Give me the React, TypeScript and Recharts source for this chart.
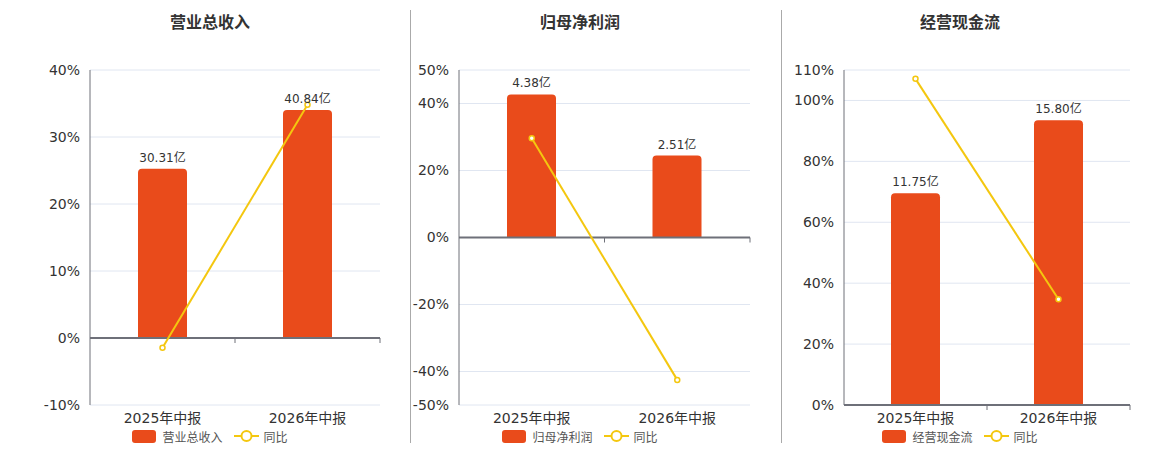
import * as Recharts from "recharts";
import {
  ComposedChart,
  Bar,
  Line,
  XAxis,
  YAxis,
  CartesianGrid,
  ReferenceLine,
  LabelList,
} from "recharts";

const categories = ["2025年中报", "2026年中报"];

const revenueValues = [30.31, 40.84];
const revenueYoY = [-1.45, 34.8];
const revenueTicks = [-10, 0, 10, 20, 30, 40];

const profitValues = [4.38, 2.51];
const profitYoY = [29.6, -42.5];
const profitTicks = [-50, -40, -20, 0, 20, 40, 50];

const cashValues = [11.75, 15.8];
const cashYoY = [107.1, 34.7];
const cashTicks = [0, 20, 40, 60, 80, 100, 110];

const BAR_COLOR = "#e94b1b";
const LINE_COLOR = "#f4c70f";
const AXIS_COLOR = "#6e7079";
const GRID_COLOR = "#e0e6f1";
const FONT = "'DejaVu Sans', 'Noto Sans CJK SC', sans-serif";

interface PanelProps {
  title: string;
  barName: string;
  values: number[];
  yoy: number[];
  ticks: number[];
  barDomain: [number, number];
  left: number;
  width: number;
  axisWidth: number;
  center: number;
}

// tick marks hanging below the zero line, at the category boundaries
function BoundaryTicks({ domain, count }: { domain: [number, number]; count: number }) {
  const usePlotArea = (Recharts as any).usePlotArea;
  const area = usePlotArea ? usePlotArea() : null;
  if (!area) return null;
  const [min, max] = domain;
  const y0 = area.y + (area.height * max) / (max - min);
  const step = area.width / count;
  const marks = [];
  for (let i = 1; i <= count; i++) {
    const x = area.x + step * i;
    marks.push(<line key={i} x1={x} x2={x} y1={y0} y2={y0 + 5} stroke={AXIS_COLOR} strokeWidth={1} />);
  }
  return <g>{marks}</g>;
}

function Panel({ title, barName, values, yoy, ticks, barDomain, left, width, axisWidth, center }: PanelProps) {
  const data = categories.map((name, i) => ({ name, value: values[i], yoy: yoy[i] }));
  const pctDomain: [number, number] = [ticks[0], ticks[ticks.length - 1]];

  return (
    <>
      <div
        style={{
          position: "absolute",
          left: center - 100,
          width: 200,
          top: 12,
          textAlign: "center",
          fontSize: 16,
          fontWeight: "bold",
          color: "#333",
          lineHeight: "22px",
        }}
      >
        {title}
      </div>
      <div style={{ position: "absolute", left, top: 0 }}>
        <ComposedChart
          width={width}
          height={450}
          data={data}
          margin={{ top: 70, right: 20, bottom: 15, left: 0 }}
          barCategoryGap="33%"
        >
          <CartesianGrid yAxisId="pct" vertical={false} stroke={GRID_COLOR} />
          <XAxis
            dataKey="name"
            axisLine={false}
            tickLine={false}
            height={30}
            tick={{ fill: "#333", fontSize: 14, fontFamily: FONT }}
          />
          <YAxis
            yAxisId="pct"
            domain={pctDomain}
            ticks={ticks}
            interval={0}
            width={axisWidth}
            axisLine={{ stroke: AXIS_COLOR }}
            tickLine={false}
            tickMargin={4}
            tickFormatter={(v: number) => `${v}%`}
            tick={{ fill: "#333", fontSize: 14, fontFamily: FONT }}
          />
          <YAxis yAxisId="bar" orientation="right" width={0} domain={barDomain} hide />
          <Bar
            yAxisId="bar"
            dataKey="value"
            name={barName}
            fill={BAR_COLOR}
            barSize={49}
            radius={[4, 4, 0, 0]}
            isAnimationActive={false}
          >
            <LabelList
              dataKey="value"
              position="top"
              offset={7}
              formatter={(v: number) => `${v.toFixed(2)}亿`}
              style={{ fill: "#333", fontSize: 12, fontFamily: FONT }}
            />
          </Bar>
          <ReferenceLine yAxisId="pct" y={0} stroke={AXIS_COLOR} strokeWidth={2} />
          <Line
            yAxisId="pct"
            dataKey="yoy"
            name="同比"
            stroke={LINE_COLOR}
            strokeWidth={2}
            dot={{ r: 2.5, fill: "#fff", stroke: LINE_COLOR, strokeWidth: 1.5 }}
            activeDot={false}
            isAnimationActive={false}
          />
          <BoundaryTicks domain={pctDomain} count={categories.length} />
        </ComposedChart>
      </div>
      <div
        style={{
          position: "absolute",
          left: center - 100,
          width: 200,
          top: 428,
          display: "flex",
          justifyContent: "center",
          alignItems: "center",
          fontSize: 12,
          color: "#555",
          height: 16,
        }}
      >
        <span style={{ width: 24, height: 13, borderRadius: 3, background: BAR_COLOR, display: "inline-block" }} />
        <span style={{ marginLeft: 6 }}>{barName}</span>
        <svg width={25} height={14} style={{ marginLeft: 11 }}>
          <line x1={0} x2={25} y1={7} y2={7} stroke={LINE_COLOR} strokeWidth={2} />
          <circle cx={12.5} cy={7} r={5} fill="#fff" stroke={LINE_COLOR} strokeWidth={2} />
        </svg>
        <span style={{ marginLeft: 5 }}>同比</span>
      </div>
    </>
  );
}

export default function App() {
  return (
    <div style={{ position: "relative", width: 1160, height: 450, background: "#fff", fontFamily: FONT }}>
      <style>{`body{margin:0}`}</style>
      <Panel
        title="营业总收入"
        barName="营业总收入"
        values={revenueValues}
        yoy={revenueYoY}
        ticks={revenueTicks}
        barDomain={[-12, 48]}
        left={0}
        width={400}
        axisWidth={90}
        center={210}
      />
      <div style={{ position: "absolute", left: 410, top: 10, width: 1, height: 433, background: "#aaa" }} />
      <Panel
        title="归母净利润"
        barName="归母净利润"
        values={profitValues}
        yoy={profitYoY}
        ticks={profitTicks}
        barDomain={[-5.13, 5.13]}
        left={410}
        width={360}
        axisWidth={49}
        center={580}
      />
      <div style={{ position: "absolute", left: 781, top: 10, width: 1, height: 433, background: "#aaa" }} />
      <Panel
        title="经营现金流"
        barName="经营现金流"
        values={cashValues}
        yoy={cashYoY}
        ticks={cashTicks}
        barDomain={[0, 18.59]}
        left={790}
        width={360}
        axisWidth={54}
        center={960}
      />
    </div>
  );
}
